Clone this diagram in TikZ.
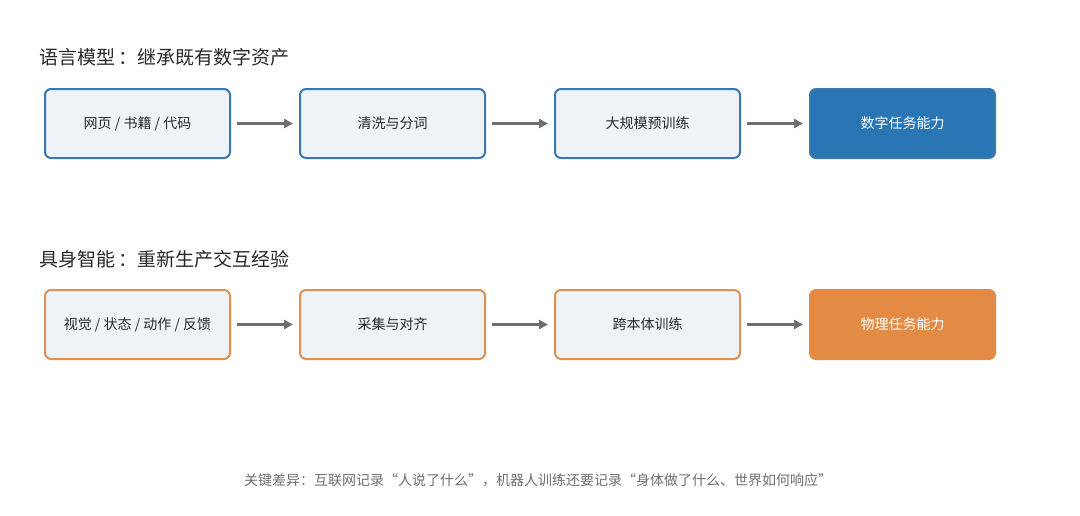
\documentclass[tikz,border=0pt]{standalone}
\usepackage{fontspec}
\newfontfamily\cjk{Noto Sans CJK SC}
\usepackage{tikz}
\usetikzlibrary{positioning, arrows.meta}
\definecolor{blueline}{RGB}{58, 120, 173}
\definecolor{bluefill}{RGB}{42, 118, 181}
\definecolor{orangeline}{RGB}{224, 144, 80}
\definecolor{orangefill}{RGB}{227, 139, 68}
\definecolor{boxfill}{RGB}{238, 243, 248}
\definecolor{arrowgray}{RGB}{110, 110, 110}
\definecolor{titletext}{RGB}{40, 40, 40}

\tikzset{
  stagebox/.style={draw, line width=2pt, rounded corners=6pt, fill=boxfill,
    minimum width=185pt, minimum height=69pt, font=\cjk\fontsize{14}{16}\selectfont, text=titletext},
  lmstep/.style={stagebox, draw=blueline},
  bodystep/.style={stagebox, draw=orangeline},
  flow/.style={-{Triangle[length=9pt, width=9pt]}, line width=2.2pt, arrowgray, shorten >=6pt, shorten <=6pt},
  heading/.style={anchor=west, font=\cjk\fontsize{19}{22}\selectfont, text=titletext}
}

\begin{document}
\begin{tikzpicture}[x=1pt, y=-1pt]
  \useasboundingbox (0, 0) rectangle (1080, 515);

  % language model row
  \node[heading] (lmtitle) at (36, 57) {语言模型\,：继承既有数字资产};
  \node[lmstep] (web) at (137.5, 123.5) {网页 / 书籍 / 代码};
  \node[lmstep, right=68pt of web] (clean) {清洗与分词};
  \node[lmstep, right=68pt of clean] (pretrain) {大规模预训练};
  \node[lmstep, right=68pt of pretrain, fill=bluefill, text=white] (digital) {数字任务能力};
  \draw[flow] (web) -- (clean);
  \draw[flow] (clean) -- (pretrain);
  \draw[flow] (pretrain) -- (digital);

  % embodied row
  \node[heading] (embtitle) at (36, 259) {具身智能\,：重新生产交互经验};
  \node[bodystep] (sense) at (137.5, 324.5) {视觉 / 状态 / 动作 / 反馈};
  \node[bodystep, right=68pt of sense] (collect) {采集与对齐};
  \node[bodystep, right=68pt of collect] (cross) {跨本体训练};
  \node[bodystep, right=68pt of cross, draw=orangefill, fill=orangefill, text=white] (physical) {物理任务能力};
  \draw[flow] (sense) -- (collect);
  \draw[flow] (collect) -- (cross);
  \draw[flow] (cross) -- (physical);

  \node[font=\cjk\fontsize{14}{16}\selectfont, text=arrowgray] (note) at (538, 480)
    {关键差异：互联网记录“人说了什么”，机器人训练还要记录“身体做了什么、世界如何响应”};
\end{tikzpicture}
\end{document}
